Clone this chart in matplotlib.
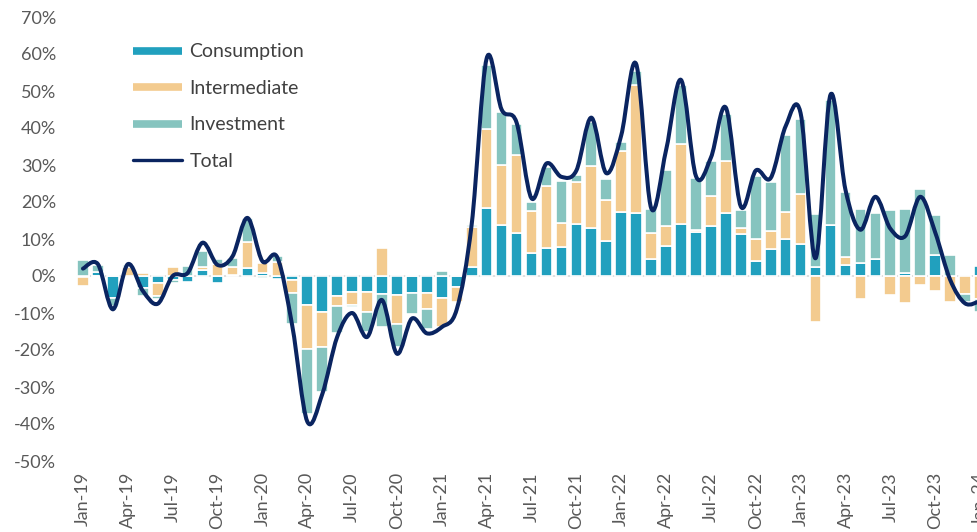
import numpy as np
import pandas as pd
import matplotlib
matplotlib.use("Agg")
import matplotlib.pyplot as plt
from matplotlib.path import Path
from matplotlib.patches import PathPatch
from matplotlib.lines import Line2D

plt.rcParams['font.family'] = ['Lato', 'DejaVu Sans']

# monthly categories Jan-19 .. Jan-24
months = list(pd.date_range('2019-01-01', '2024-01-01', freq='MS').strftime('%b-%y'))

# contributions in percentage points
consumption = [-0.3, 1.2, -5.9, 0.0, -3.2, -1.9, -1.0, -1.5, 1.6, -2.0, 0.3, 2.1,
               0.8, -0.7, -1.2, -7.9, -9.8, -5.4, -4.3, -4.3, -4.8, -5.0, -4.5, -4.5,
               -6.0, -3.0, 2.5, 18.4, 13.8, 11.7, 6.1, 7.5, 7.8, 14.1, 13.1, 9.5,
               17.2, 16.9, 4.5, 8.0, 14.0, 11.8, 13.6, 16.9, 11.3, 4.1, 7.4, 10.1,
               8.6, 2.3, 13.8, 3.1, 3.6, 4.5, 0.0, 0.7, 0.0, 5.8, 0.0, 0.0,
               2.6]
intermediate = [-2.5, -0.3, 0.0, 2.5, 0.8, -3.4, 2.3, 0.0, 0.7, 3.3, 2.0, 7.0,
                2.7, 3.8, -3.3, -11.9, -9.4, -2.7, -3.6, -5.5, 7.7, -8.0, 0.0, -4.3,
                -7.9, -4.0, 10.7, 21.3, 16.3, 21.0, 11.4, 16.7, 6.5, 11.3, 16.5, 11.0,
                16.7, 34.8, 7.0, 5.4, 21.7, 0.5, 8.1, 14.3, 1.8, 5.9, 4.8, 7.2,
                13.6, -12.5, 0.0, 2.1, -6.3, 0.0, -5.0, -7.2, -2.4, -4.1, -7.1, -4.8,
                -6.1]
investment = [4.2, 1.8, -2.2, 0.5, -2.1, -0.8, -0.8, 2.8, 4.5, 1.2, 2.5, 6.5,
              -0.5, 1.6, -8.6, -17.5, -12.2, -7.2, -0.5, -5.2, -8.9, -6.2, -5.7, -5.6,
              1.4, 0.0, 0.7, 17.4, 14.3, 8.3, 2.6, 5.3, 11.4, 1.8, 12.0, 5.6,
              2.3, 3.6, 6.6, 15.3, 15.8, 14.3, 9.5, 12.7, 4.7, 16.9, 13.1, 20.9,
              20.1, 14.5, 33.9, 17.5, 14.4, 12.5, 17.9, 17.5, 23.6, 10.8, 5.8, -2.3,
              -3.7]
total = [2.0, 3.2, -9.0, 3.2, -4.0, -7.5, 0.0, 0.8, 9.0, 3.0, 5.3, 15.7,
         4.0, 5.0, -13.5, -39.3, -32.0, -16.5, -10.0, -16.5, -6.5, -21.0, -11.5, -15.5,
         -13.8, -9.0, 14.0, 58.8, 45.0, 41.5, 21.0, 30.4, 26.8, 28.5, 42.8, 27.8,
         38.0, 57.3, 18.4, 34.0, 53.0, 27.0, 32.0, 45.5, 18.8, 28.5, 26.5, 40.5,
         44.0, 4.8, 49.0, 23.3, 12.5, 21.4, 12.8, 10.8, 21.4, 11.8, -1.0, -7.4,
         -6.8]

series = [('Consumption', consumption, '#21A0BE'),
          ('Intermediate', intermediate, '#F3CB8F'),
          ('Investment', investment, '#86C4BF')]
line_color = '#0A2460'
grey = '#595959'

fig = plt.figure(figsize=(9.78, 5.32), dpi=100)
# plot area runs a little past the right edge, like the cropped original
ax = fig.add_axes([75.5 / 978, 1 - 461 / 532, 912 / 978, 444 / 532])

x = np.arange(len(months))
pos_base = np.zeros(len(months))
neg_base = np.zeros(len(months))
for name, vals, col in series:
    v = np.array(vals)
    base = np.where(v >= 0, pos_base, neg_base)
    ax.bar(x, v, bottom=base, width=0.78, color=col, edgecolor='white',
           linewidth=1.2, zorder=2)
    pos_base = pos_base + np.where(v > 0, v, 0)
    neg_base = neg_base + np.where(v < 0, v, 0)

ax.axhline(0, color='#D9D9D9', lw=1.2, zorder=1)

# smoothed total line (Catmull-Rom segments drawn as cubic Bezier curves)
pts = np.column_stack([x, total]).astype(float)
ext = np.vstack([pts[0], pts, pts[-1]])
verts = [pts[0]]
codes = [Path.MOVETO]
for i in range(len(pts) - 1):
    p0, p1, p2, p3 = ext[i], ext[i + 1], ext[i + 2], ext[i + 3]
    verts += [p1 + (p2 - p0) / 6, p2 - (p3 - p1) / 6, p2]
    codes += [Path.CURVE4] * 3
ax.add_patch(PathPatch(Path(verts, codes), fill=False, edgecolor=line_color,
                       lw=2.9, capstyle='round', joinstyle='round', zorder=3))

ax.set_xlim(-0.5, len(months) - 0.5)
ax.set_ylim(-50, 70)
ax.set_yticks(np.arange(-50, 71, 10))
ax.set_yticklabels([f'{t}%' for t in range(-50, 71, 10)])
ax.set_xticks(x[::3])
ax.set_xticklabels(months[::3], rotation=90)
ax.tick_params(axis='y', length=0, pad=14, labelsize=13, labelcolor=grey)
ax.tick_params(axis='x', length=0, pad=8, labelsize=13, labelcolor=grey)
for s in ax.spines.values():
    s.set_visible(False)

handles = [Line2D([], [], color=col, lw=5.5, solid_capstyle='butt') for _, _, col in series]
handles.append(Line2D([], [], color=line_color, lw=2.4, solid_capstyle='round'))
labels = [s[0] for s in series] + ['Total']
leg = fig.legend(handles, labels, loc='upper left', bbox_to_anchor=(133 / 978, 1 - 43.5 / 532),
                 frameon=False, fontsize=14, handlelength=2.5, handletextpad=0.4,
                 labelspacing=1.0, borderpad=0, borderaxespad=0)
for t in leg.get_texts():
    t.set_color('#404040')

fig.savefig('out.png', dpi=100)
